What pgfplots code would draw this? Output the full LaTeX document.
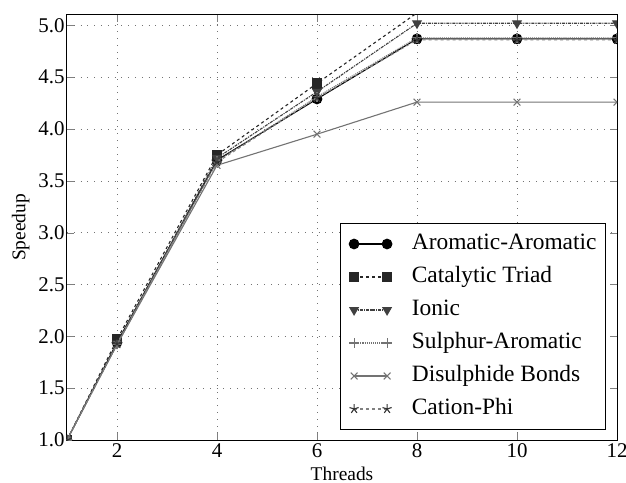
\documentclass[border=0pt]{standalone}
\usepackage{pgfplots}
\pgfplotsset{compat=1.18}
\usepackage{fontspec}
\setmainfont{Liberation Serif}
\begin{document}
\begin{tikzpicture}
\begin{axis}[
  scale only axis,
  width=550bp, height=425bp,
  xmin=1, xmax=12, ymin=1, ymax=5.1,
  xtick={2,4,6,8,10,12},
  ytick={1,1.5,...,5},
  yticklabel style={xshift=1bp, /pgf/number format/.cd, fixed, fixed zerofill, precision=1},
  /pgf/number format/assume math mode=true,
  tick label style={font=\fontsize{21}{23}\selectfont},
  label style={font=\fontsize{19.5}{21}\selectfont},
  xlabel={Threads}, ylabel={Speedup},
  xlabel style={at={(rel axis cs:0.5,0)}, anchor=north, yshift=-23bp},
  ylabel style={yshift=2bp},
  tick align=inside, tick pos=both,
  major tick length=7bp,
  xmajorgrids, ymajorgrids,
  grid style={dash pattern=on 0.8bp off 6bp, black!55, line width=0.7bp},
  axis line style={line width=1bp},
  clip marker paths=true,
  every axis plot/.append style={line width=1.1bp, mark size=4.8bp},
  legend style={at={(rel axis cs:1,0)}, anchor=south east, xshift=-11bp, yshift=10bp,
    font=\fontsize{23.5}{25}\selectfont, row sep=8bp, column sep=18bp,
    draw=black, line width=1bp,
    inner xsep=7bp, inner ysep=8bp,
    nodes={inner sep=2bp, text height=16bp, text depth=5bp}},
  legend cell align=left,
  legend image code/.code={%
    \path (-6bp,0bp);
    \draw[mark repeat=2, mark phase=1, #1] plot coordinates {(0bp,0bp) (16.5bp,0bp) (33bp,0bp)};},
]
\addplot[black, solid, mark=*, mark options={solid, fill=black}] coordinates
  {(1,1.0)(2,1.94)(4,3.70)(6,4.29)(8,4.87)(10,4.87)(12,4.87)};
\addlegendentry{Aromatic-Aromatic}
\addplot[black!85, dashed, mark=square*, mark options={solid, fill=black!85}] coordinates
  {(1,1.0)(2,1.97)(4,3.75)(6,4.44)(8,5.12)(10,5.12)(12,5.12)};
\addlegendentry{Catalytic Triad}
\addplot[black!75, densely dashdotted, mark=triangle*, mark options={solid, fill=black!75, rotate=180}] coordinates
  {(1,1.0)(2,1.93)(4,3.72)(6,4.36)(8,5.02)(10,5.02)(12,5.02)};
\addlegendentry{Ionic}
\addplot[black!55, densely dotted, mark=+, mark options={solid}] coordinates
  {(1,1.0)(2,1.92)(4,3.69)(6,4.31)(8,4.88)(10,4.88)(12,4.88)};
\addlegendentry{Sulphur-Aromatic}
\addplot[black!55, solid, mark=x, mark options={solid}] coordinates
  {(1,1.0)(2,1.92)(4,3.65)(6,3.95)(8,4.26)(10,4.26)(12,4.26)};
\addlegendentry{Disulphide Bonds}
\addplot[black!50, dashed, mark=star, mark options={solid, fill=black!50, draw=black!80}] coordinates
  {(1,1.0)(2,1.93)(4,3.68)(6,4.30)(8,4.86)(10,4.86)(12,4.86)};
\addlegendentry{Cation-Phi}
\end{axis}
\pgfresetboundingbox
\path ([shift={(-67bp,-43bp)}]current axis.south west) rectangle ([shift={(9bp,15bp)}]current axis.north east);
\end{tikzpicture}
\end{document}
